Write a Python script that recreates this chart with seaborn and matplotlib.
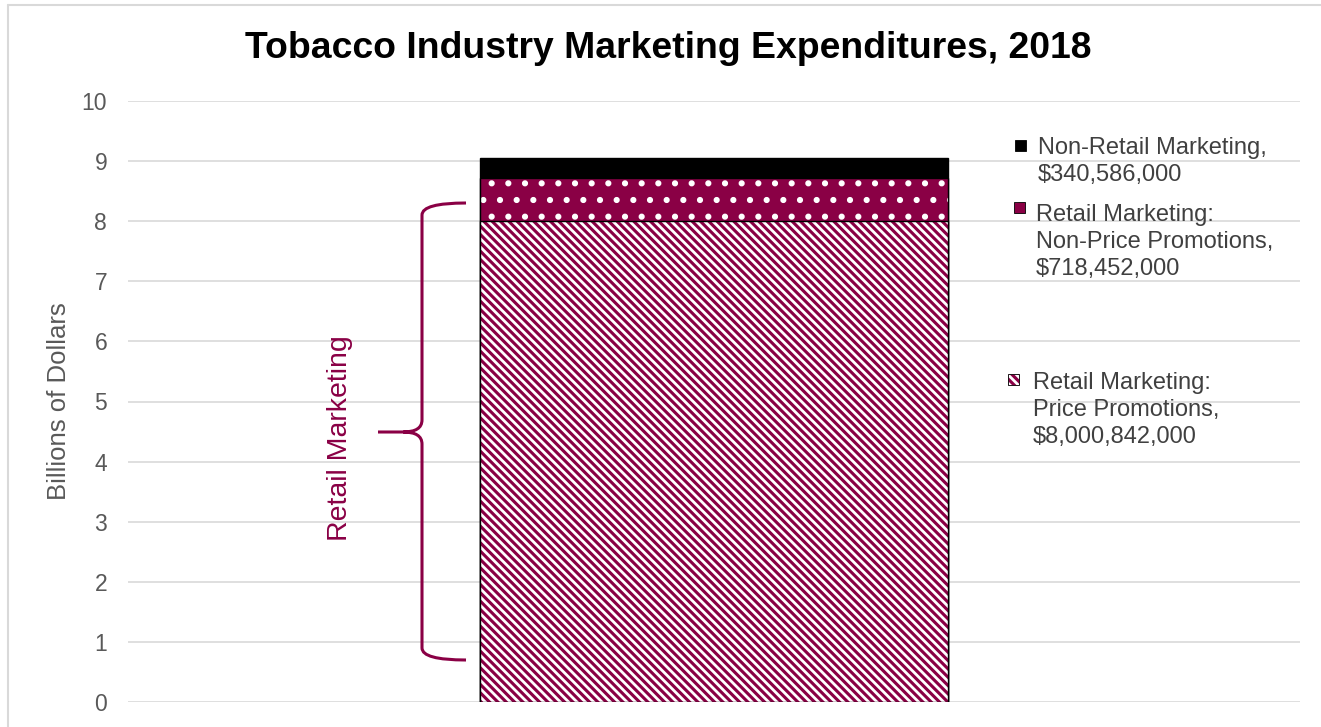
import matplotlib
matplotlib.use("Agg")
import matplotlib.pyplot as plt
import matplotlib.colors as mcolors
from matplotlib.path import Path
from matplotlib.patches import PathPatch, Rectangle
from matplotlib.lines import Line2D
import seaborn as sns

# data (billions of dollars)
year = ["2018"]
segments = ["Retail Marketing: Price Promotions",
            "Retail Marketing: Non-Price Promotions",
            "Non-Retail Marketing"]
amounts = [8000842000, 718452000, 340586000]
legend_labels = ["Non-Retail Marketing,\n$340,586,000",
                 "Retail Marketing:\nNon-Price Promotions,\n$718,452,000",
                 "Retail Marketing:\nPrice Promotions,\n$8,000,842,000"]
y_ticks = list(range(0, 11))

MAROON = "#8a0045"
GRID = "#d9d9d9"
TICK = "#595959"

sns.set_theme(style="whitegrid")
plt.rcParams["font.family"] = ["Liberation Sans", "DejaVu Sans"]
plt.rcParams["hatch.linewidth"] = 2.0


def white_hatch(patch):
    try:
        patch.set_hatchcolor("white")
    except AttributeError:
        patch._hatch_color = mcolors.to_rgba("white")


fig = plt.figure(figsize=(13.21, 7.27), dpi=100)
ax = fig.add_axes([128 / 1321, 1 - 702 / 727, 1172 / 1321, 601 / 727])

# stacked bar: draw cumulative totals, tallest first
billions = [a / 1e9 for a in amounts]
tops = [sum(billions[: i + 1]) for i in range(len(billions))]
styles = [
    (MAROON, "\\\\\\\\"),  # price promotions
    (MAROON, "."),         # non-price promotions
    ("black", None),       # non-retail
]
for i in reversed(range(len(tops))):
    color, hatch = styles[i]
    sns.barplot(x=year, y=[tops[i]], color=color, saturation=1, width=0.4,
                edgecolor="black", linewidth=1.0, hatch=hatch, ax=ax)
    if hatch:
        white_hatch(ax.patches[-1])

ax.set_xlim(-0.5, 0.5)
ax.set_ylim(0, 10)
ax.set_yticks(y_ticks)
ax.set_xticks([])
ax.set_xlabel("")
ax.grid(axis="y", color=GRID, linewidth=1.2)
ax.grid(axis="x", visible=False)
ax.set_axisbelow(True)
for s in ax.spines.values():
    s.set_visible(False)
ax.tick_params(axis="y", length=0, pad=15, labelsize=16.5, labelcolor=TICK)
ax.set_facecolor("none")

ax.set_ylabel("Billions of Dollars", fontsize=18.5, color=TICK)
ax.yaxis.set_label_coords(-0.049, 0.5)

fig.text(0.5057, 1 - 48 / 727, "Tobacco Industry Marketing Expenditures, 2018",
         ha="center", va="center", fontsize=26.9, fontweight="bold", color="black")

# bracket for retail marketing
def px2x(px):
    return (px - 128) / 1172 - 0.5

def py2y(py):
    return (702 - py) / 60.1

xv, xe, xt = px2x(422), px2x(466), px2x(378)
yt, yb, ym = py2y(203), py2y(660), py2y(432)
ry = 0.2
verts = [
    (xe, yt), (xv, yt), (xv, yt - ry),
    (xv, ym + ry), (xv, ym), (xv - 0.016, ym),
    (xt, ym),
    (xv - 0.016, ym), (xv, ym), (xv, ym - ry),
    (xv, yb + ry), (xv, yb), (xe, yb),
]
codes = [Path.MOVETO, Path.CURVE3, Path.CURVE3,
         Path.LINETO, Path.CURVE3, Path.CURVE3,
         Path.LINETO,
         Path.MOVETO, Path.CURVE3, Path.CURVE3,
         Path.LINETO, Path.CURVE3, Path.CURVE3]
ax.add_patch(PathPatch(Path(verts, codes), facecolor="none", edgecolor=MAROON,
                       linewidth=2.2, clip_on=False, capstyle="butt"))
ax.text(px2x(340), py2y(438), "Retail Marketing", rotation=90, ha="center",
        va="center", fontsize=20.5, color=MAROON)

# legend entries
legend_specs = [
    (1020, 145, 1038, 137, "black", None),
    (1019, 207, 1036, 204, MAROON, "."),
    (1013, 379, 1033, 372, MAROON, "\\\\\\\\"),
]
for (mx, my, tx, ty, fc, hatch), label in zip(legend_specs, legend_labels):
    sq = Rectangle((mx / 1321 - 5.5 / 1321, 1 - my / 727 - 5.5 / 727),
                   11 / 1321, 11 / 727, transform=fig.transFigure,
                   facecolor=fc, edgecolor="black", linewidth=0.6, hatch=hatch)
    if hatch:
        white_hatch(sq)
    fig.add_artist(sq)
    fig.text(tx / 1321, 1 - ty / 727, label, ha="left", va="top",
             fontsize=17, color="#404040", linespacing=1.28)

# outer chart border (left and top)
fig.add_artist(Line2D([8 / 1321, 8 / 1321], [0, 1 - 5 / 727],
                      transform=fig.transFigure, color=GRID, linewidth=1.5))
fig.add_artist(Line2D([8 / 1321, 1], [1 - 5 / 727, 1 - 5 / 727],
                      transform=fig.transFigure, color=GRID, linewidth=1.5))

fig.savefig("out.png", dpi=100)
